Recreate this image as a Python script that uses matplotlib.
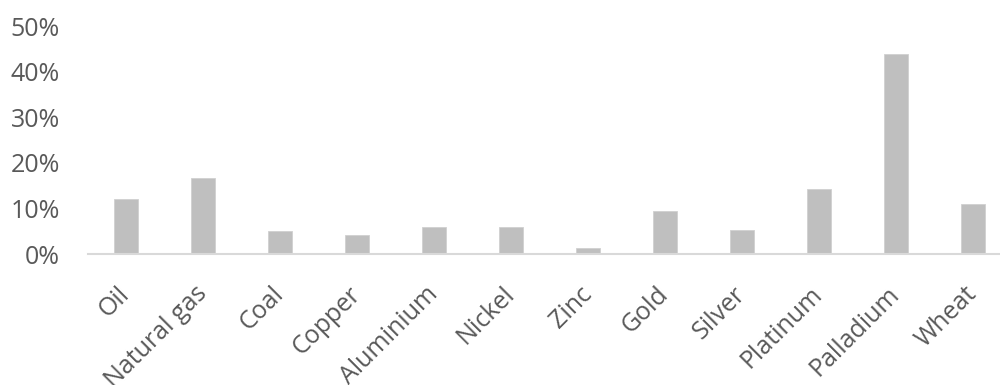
import matplotlib
matplotlib.use("Agg")
import matplotlib.pyplot as plt
from matplotlib.ticker import PercentFormatter

categories = ["Oil", "Natural gas", "Coal", "Copper", "Aluminium", "Nickel",
              "Zinc", "Gold", "Silver", "Platinum", "Palladium", "Wheat"]
values = [12.0, 16.6, 5.1, 4.1, 5.9, 5.9, 1.3, 9.4, 5.2, 14.2, 44.0, 10.9]
y_ticks = [0, 10, 20, 30, 40, 50]

plt.rcParams['font.family'] = ['Open Sans', 'DejaVu Sans']
text_color = "#595959"

fig = plt.figure(figsize=(10, 3.85), dpi=100)
ax = fig.add_axes([0.0875, 0.340, 0.924, 0.592])

x = list(range(len(categories)))
ax.bar(x, values, width=0.31, color="#BFBFBF", edgecolor="#D0D0D0", linewidth=0.6, zorder=2)

ax.set_xlim(-0.5, len(categories) - 0.5)
ax.set_ylim(0, 50)
ax.set_yticks(y_ticks)
ax.yaxis.set_major_formatter(PercentFormatter(decimals=0))
ax.tick_params(axis='y', length=0, pad=20, labelsize=18, labelcolor=text_color)
ax.tick_params(axis='x', length=0, pad=26, labelsize=18, labelcolor=text_color)
ax.set_xticks(x)
ax.set_xticklabels(categories, rotation=45, ha='right', va='center', rotation_mode='anchor')

for s in ['top', 'right', 'left']:
    ax.spines[s].set_visible(False)
ax.spines['bottom'].set_color("#D9D9D9")
ax.spines['bottom'].set_linewidth(1.5)

fig.savefig("out.png", dpi=100)
